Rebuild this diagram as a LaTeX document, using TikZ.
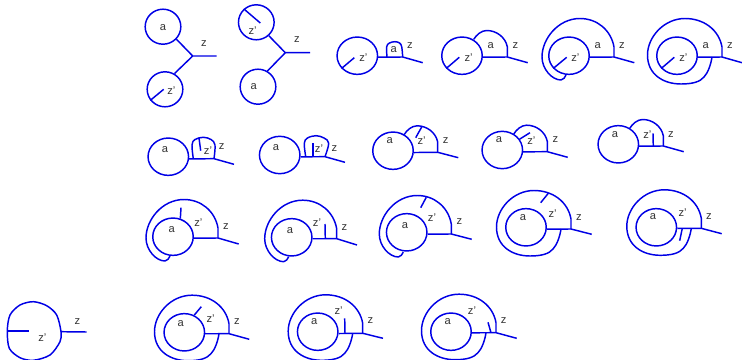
\documentclass[tikz,border=0pt]{standalone}
\usepackage{fontspec}
\setmainfont{Liberation Sans}
\usetikzlibrary{shapes.geometric}
\begin{document}
\begin{tikzpicture}[x=0.03cm, y=-0.03cm,
    wire/.style={draw=wireblue, line width=1.25pt, line join=round},
    loopa/.style={ellipse, draw=wireblue, line width=1.25pt, minimum width=1.215cm, minimum height=1.12cm, inner sep=0pt},
    loopb/.style={loopa, minimum width=1.07cm, minimum height=1.05cm},
    lbl/.style={text=black!80, inner sep=0pt, font=\fontsize{9.5}{11}\selectfont}]
    \colorlet{wireblue}{blue!90!black}
    \useasboundingbox (0,0) rectangle (742,360);

    % loops
    \node[loopb] (c1)  at (163,26.7) {};
    \node[loopb] (c1b) at (165,89.3) {};
    \node[loopb] (c2)  at (256.3,22.3) {};
    \node[loopb] (c2b) at (258,86.7) {};
    \node[loopa] (c3)  at (357.3,55.7) {};
    \node[loopa] (c4)  at (462,55.7) {};
    \node[loopa] (c5)  at (569,55.7) {};
    \node[loopa] (c6)  at (677,55.7) {};
    \node[loopa] (c7)  at (168.3,156.7) {};
    \node[loopa] (c8)  at (279.7,155) {};
    \node[loopa] (c9)  at (393,150.7) {};
    \node[loopa] (c10) at (502.3,150) {};
    \node[loopa] (c11) at (618.3,144.3) {};
    \node[loopa] (c12) at (173,236.7) {};
    \node[loopa] (c13) at (291.7,237.3) {};
    \node[loopa] (c14) at (406.7,232.3) {};
    \node[loopa] (c15) at (526,227.3) {};
    \node[loopa] (c16) at (656.3,227.3) {};
    \node[loopa] (c18) at (184.3,332.3) {};
    \node[loopa] (c19) at (317.7,331.7) {};
    \node[loopa] (c20) at (451,331.7) {};

    % junctions on the outgoing line
    \coordinate (j1)  at (192.7,56);
    \coordinate (j2)  at (285.3,52.7);
    \coordinate (j3)  at (402.7,57);
    \coordinate (j4)  at (507.3,57);
    \coordinate (j5)  at (614,57);
    \coordinate (j6)  at (722,57);
    \coordinate (j7)  at (214,158.7);
    \coordinate (j8)  at (325,156.7);
    \coordinate (j9)  at (437.7,152.3);
    \coordinate (j10) at (547.3,151.7);
    \coordinate (j11) at (663.3,146);
    \coordinate (j12) at (218,238);
    \coordinate (j13) at (336.7,238.7);
    \coordinate (j14) at (451.3,234);
    \coordinate (j15) at (571,229);
    \coordinate (j16) at (701.3,228.3);
    \coordinate (j17) at (61,331.7);
    \coordinate (j18) at (229,333.7);
    \coordinate (j19) at (362.7,333.3);
    \coordinate (j20) at (496,332.7);

    % free ends of the outgoing line
    \coordinate (e1)  at (216.7,56);
    \coordinate (e2)  at (310,52.7);
    \coordinate (e3)  at (422.7,62.7);
    \coordinate (e4)  at (527.7,62.7);
    \coordinate (e5)  at (634.3,62.7);
    \coordinate (e6)  at (742,62.7);
    \coordinate (e7)  at (234,164.3);
    \coordinate (e8)  at (345,162.3);
    \coordinate (e9)  at (458.3,157.7);
    \coordinate (e10) at (567.7,157.3);
    \coordinate (e11) at (683.7,151.7);
    \coordinate (e12) at (238.7,244);
    \coordinate (e13) at (357,245);
    \coordinate (e14) at (471.7,239.3);
    \coordinate (e15) at (591.7,234.3);
    \coordinate (e16) at (721.7,233.7);
    \coordinate (e17) at (86.7,332);
    \coordinate (e18) at (249.3,339.3);
    \coordinate (e19) at (383,338.3);
    \coordinate (e20) at (516.7,338.3);

    % two loops on one vertex
    \draw[wire] (c1.-43) -- (j1) -- (e1);
    \draw[wire] (c1b.59) -- (j1);
    \draw[wire] (c2b.59) -- (j2) -- (e2);
    \draw[wire] (c2.-47) -- (j2);

    % outgoing lines
    \draw[wire] (c3.-4) -- (j3) -- (e3);
    \draw[wire] (c4.-4) -- (j4) -- (e4);
    \draw[wire] (c5.-4) -- (j5) -- (e5);
    \draw[wire] (c6.-4) -- (j6) -- (e6);
    \draw[wire] (c7.-6) -- (j7) -- (e7);
    \draw[wire] (c8.-5) -- (j8) -- (e8);
    \draw[wire] (c9.-5) -- (j9) -- (e9);
    \draw[wire] (c10.-5) -- (j10) -- (e10);
    \draw[wire] (c11.-5) -- (j11) -- (e11);
    \draw[wire] (c12.-4) -- (j12) -- (e12);
    \draw[wire] (c13.-4) -- (j13) -- (e13);
    \draw[wire] (c14.-5) -- (j14) -- (e14);
    \draw[wire] (c15.-5) -- (j15) -- (e15);
    \draw[wire] (c16.-3) -- (j16) -- (e16);
    \draw[wire] (j17) -- (e17);
    \draw[wire] (c18.-4) -- (j18) -- (e18);
    \draw[wire] (c19.-5) -- (j19) -- (e19);
    \draw[wire] (c20.-3) -- (j20) -- (e20);

    % small bubbles
    \draw[wire] plot[smooth, tension=0.6] coordinates {(387,57) (386.7,46.7) (389.5,43) (395,41.7) (399.5,43) (401.7,46.7) (j3)};
    \draw[wire] plot[smooth, tension=0.6] coordinates {(193.3,158.7) (192,145) (195,139.5) (203.3,137.3) (211,139.5) (215,145) (j7)};
    \draw[wire] plot[smooth, tension=0.6] coordinates {(305.7,156.7) (304.3,143.3) (307.5,138) (316,135.7) (324,138) (328.7,143.3) (j8)};

    % arcs from a loop to the junction
    \foreach \j in {j4,j9,j10,j11} {
        \begin{scope}[shift={(\j)}]
            \draw[wire] (0,0) -- (0,-10.3) .. controls (-2,-20) and (-11,-26.5) .. (-20.6,-26.5) .. controls (-26,-26.5) and (-31,-22) .. (-33.5,-17.7);
        \end{scope}
    }
    % arcs that pass round the back and end under the loop
    \foreach \j in {j5,j12,j13,j14} {
        \begin{scope}[shift={(\j)}]
            \draw[wire] (0,0) -- (0,-10) .. controls (-3,-27) and (-17,-38.5) .. (-34,-38.5) .. controls (-56,-38.5) and (-72,-18) .. (-72,0) .. controls (-72,12) and (-62,23) .. (-53,23) .. controls (-50.5,23) and (-49,20) .. (-48,18);
        \end{scope}
    }
    % rings that come back to the outgoing line
    \foreach \j in {j6,j15,j16,j18,j19,j20} {
        \begin{scope}[shift={(\j)}]
            \draw[wire] (0,0) -- (0,-10) .. controls (-3,-27) and (-18,-38.5) .. (-37,-38.5) .. controls (-58,-38.5) and (-74.5,-20) .. (-74.5,-2) .. controls (-74.5,18) and (-58,27) .. (-41,27) .. controls (-30,27) and (-22,25) .. (-18,20) .. controls (-14,16) and (-11,7) .. (-10,0);
        \end{scope}
    }
    % single blob
    \draw[wire] plot[smooth cycle] coordinates {(j17) (56.7,315) (46.7,305.7) (33.3,301.7) (20,305) (10,315) (7.3,330.7) (9.3,348.3) (20,357.7) (33.3,360.3) (50,355) (60,341.7)};

    % inner strokes
    \coordinate (t1) at (163.7,89.3);
    \draw[wire] (c1b.217) -- (t1);
    \coordinate (t2) at (260.3,23);
    \draw[wire] (c2.133) -- (t2);
    \coordinate (t3) at (354.3,57.7);
    \draw[wire] (c3.219) -- (t3);
    \coordinate (t4) at (459.3,57.3);
    \draw[wire] (c4.219) -- (t4);
    \coordinate (t5) at (566.7,57.3);
    \draw[wire] (c5.219) -- (t5);
    \coordinate (t6) at (674.3,57.3);
    \draw[wire] (c6.219) -- (t6);
    \coordinate (p7) at (199,138);
    \coordinate (t7) at (200.7,150.7);
    \draw[wire] (p7) -- (t7);
    \coordinate (p8) at (313,156.7);
    \coordinate (t8) at (313,143.3);
    \draw[wire] (p8) -- (t8);
    \coordinate (p9) at (421.7,127);
    \coordinate (t9) at (415.7,137.7);
    \draw[wire] (p9) -- (t9);
    \coordinate (t10) at (530,132.7);
    \draw[wire] (c10.32) -- (t10);
    \coordinate (p11) at (653.3,146);
    \coordinate (t11) at (653,133.3);
    \draw[wire] (p11) -- (t11);
    \coordinate (t12) at (181,207.7);
    \draw[wire] (c12.68) -- (t12);
    \coordinate (p13) at (325.3,238.7);
    \coordinate (t13) at (325,224);
    \draw[wire] (p13) -- (t13);
    \coordinate (p14) at (426.3,197.3);
    \coordinate (t14) at (420.7,207.7);
    \draw[wire] (p14) -- (t14);
    \coordinate (p15) at (548.3,193.3);
    \coordinate (t15) at (540.7,202.7);
    \draw[wire] (p15) -- (t15);
    \coordinate (p16) at (682.3,228.3);
    \coordinate (t16) at (679.7,240.7);
    \draw[wire] (p16) -- (t16);
    \coordinate (p17) at (7.3,331);
    \coordinate (t17) at (29.3,331);
    \draw[wire] (p17) -- (t17);
    \coordinate (t18) at (201.3,306.7);
    \draw[wire] (c18.60) -- (t18);
    \coordinate (p19) at (345,333.3);
    \coordinate (t19) at (344.7,318.3);
    \draw[wire] (p19) -- (t19);
    \coordinate (p20) at (491,332.7);
    \coordinate (t20) at (488,322.3);
    \draw[wire] (p20) -- (t20);

    % labels
    \node[lbl] (a1)  at (163,28) {a};
    \node[lbl] (zp1) at (171.3,90.7) {z'};
    \node[lbl] (z1)  at (204,44) {z};
    \node[lbl] (a2)  at (253.7,86.7) {a};
    \node[lbl] (zp2) at (252.7,31) {z'};
    \node[lbl] (z2)  at (297,39.7) {z};
    \node[lbl] (a3)  at (393.7,50) {a};
    \node[lbl] (zp3) at (363.3,57.7) {z'};
    \node[lbl] (z3)  at (410,46) {z};
    \node[lbl] (a4)  at (490.7,46) {a};
    \node[lbl] (zp4) at (468.7,57.7) {z'};
    \node[lbl] (z4)  at (515.3,46) {z};
    \node[lbl] (a5)  at (597.7,46) {a};
    \node[lbl] (zp5) at (575.3,57.7) {z'};
    \node[lbl] (z5)  at (622,46) {z};
    \node[lbl] (a6)  at (705.7,46) {a};
    \node[lbl] (zp6) at (683.3,57.7) {z'};
    \node[lbl] (z6)  at (730,46) {z};
    \node[lbl] (a7)  at (165,150) {a};
    \node[lbl] (zp7) at (208,151) {z'};
    \node[lbl] (z7)  at (221.7,146.7) {z};
    \node[lbl] (a8)  at (276,147.7) {a};
    \node[lbl] (zp8) at (319,148.3) {z'};
    \node[lbl] (z8)  at (334.3,149) {z};
    \node[lbl] (a9)  at (389.7,141) {a};
    \node[lbl] (zp9) at (421.7,140.7) {z'};
    \node[lbl] (z9)  at (445.7,141) {z};
    \node[lbl] (a10)  at (499,140) {a};
    \node[lbl] (zp10) at (531.3,140.7) {z'};
    \node[lbl] (z10)  at (555.3,139.7) {z};
    \node[lbl] (a11)  at (615,135) {a};
    \node[lbl] (zp11) at (647.3,135) {z'};
    \node[lbl] (z11)  at (671,135) {z};
    \node[lbl] (a12)  at (171.7,230) {a};
    \node[lbl] (zp12) at (198.3,222.7) {z'};
    \node[lbl] (z12)  at (226,227) {z};
    \node[lbl] (a13)  at (290,231) {a};
    \node[lbl] (zp13) at (317,222.7) {z'};
    \node[lbl] (z13)  at (344.3,227.7) {z};
    \node[lbl] (a14)  at (405,225.7) {a};
    \node[lbl] (zp14) at (432,217.7) {z'};
    \node[lbl] (z14)  at (459.3,221.7) {z};
    \node[lbl] (a15)  at (523,218) {a};
    \node[lbl] (zp15) at (552.7,213.3) {z'};
    \node[lbl] (z15)  at (579,218) {z};
    \node[lbl] (a16)  at (653,216.7) {a};
    \node[lbl] (zp16) at (682.7,212.7) {z'};
    \node[lbl] (z16)  at (709,216.7) {z};
    \node[lbl] (zp17) at (42.3,337.7) {z'};
    \node[lbl] (z17)  at (77.3,322) {z};
    \node[lbl] (a18)  at (180.7,323.3) {a};
    \node[lbl] (zp18) at (210.7,318.3) {z'};
    \node[lbl] (z18)  at (237,322) {z};
    \node[lbl] (a19)  at (314.3,321.7) {a};
    \node[lbl] (zp19) at (338.7,310.7) {z'};
    \node[lbl] (z19)  at (370.3,321) {z};
    \node[lbl] (a20)  at (447.7,321.7) {a};
    \node[lbl] (zp20) at (472,310.7) {z'};
    \node[lbl] (z20)  at (503.7,321) {z};
\end{tikzpicture}
\end{document}
